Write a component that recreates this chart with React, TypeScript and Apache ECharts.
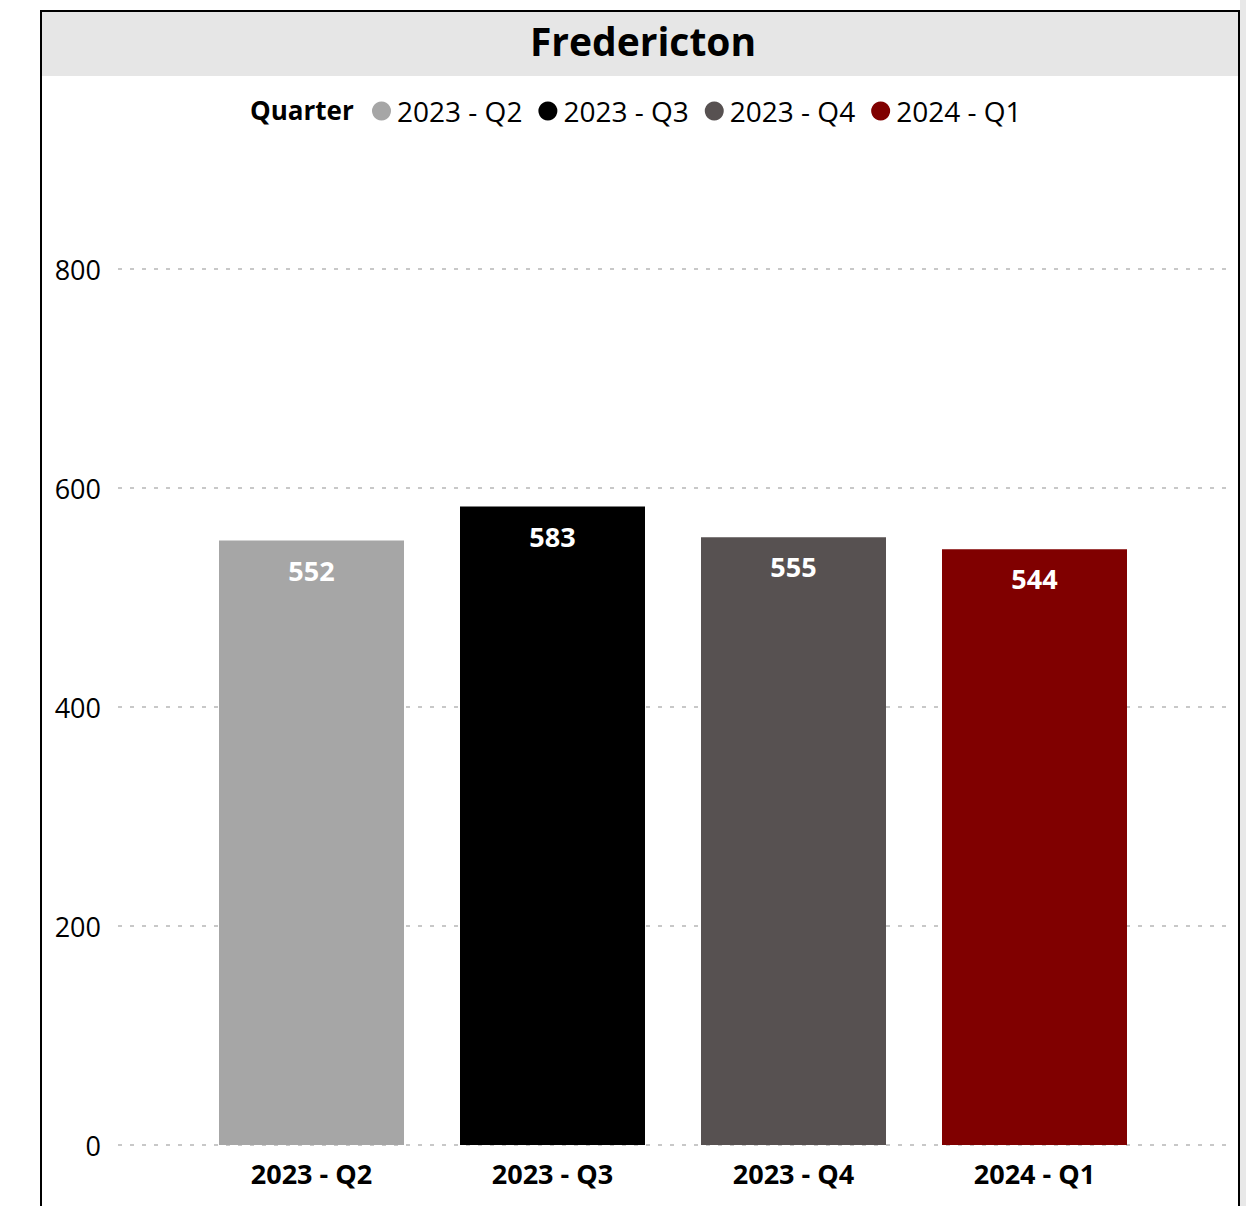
import React, { useEffect, useRef } from "react";
import * as echarts from "echarts";

const categories = ["2023 - Q2", "2023 - Q3", "2023 - Q4", "2024 - Q1"];
const values = [552, 583, 555, 544];
const colors = ["#a6a6a6", "#000000", "#575151", "#800000"];
const yTicks = { min: 0, max: 800, interval: 200 };
const chartTitle = "Fredericton";
const legendTitle = "Quarter";

const FONT = "'Open Sans', 'Noto Sans', sans-serif";

export default function App() {
  const ref = useRef<HTMLDivElement>(null);
  useEffect(() => {
    document.body.style.margin = "0";
    const chart = echarts.init(ref.current!, null, { renderer: "svg" });
    const series = categories.map((name, i) => ({
      name,
      type: "bar",
      stack: "all",
      xAxisIndex: 1,
      yAxisIndex: 1,
      barWidth: 185,
      itemStyle: { color: colors[i] },
      label: {
        show: true,
        position: "insideTop",
        distance: 16,
        color: "#ffffff",
        fontFamily: FONT,
        fontWeight: "bold",
        fontSize: 27,
      },
      data: categories.map((_, j) => (j === i ? values[i] : "-")),
    }));
    chart.setOption({
      animation: false,
      backgroundColor: "#ffffff",
      textStyle: { fontFamily: FONT },
      graphic: [
        { type: "rect", z: -10, shape: { x: 1240, y: 0, width: 10, height: 1206 }, style: { fill: "#e8e8e8" } },
        { type: "rect", z: -5, shape: { x: 41, y: 11, width: 1198, height: 65 }, style: { fill: "#e6e6e6" } },
        { type: "rect", z: 100, shape: { x: 41, y: 11, width: 1198, height: 1220 }, style: { fill: "none", stroke: "#000000", lineWidth: 2 } },
        {
          type: "text",
          left: 250,
          top: 97,
          style: { text: legendTitle, font: `bold 26px ${FONT}`, fill: "#000000" },
        },
      ],
      title: {
        text: chartTitle,
        left: 638,
        textAlign: "center",
        top: 16,
        textStyle: { fontFamily: FONT, fontWeight: "bold", fontSize: 39, color: "#000000" },
      },
      legend: {
        left: 367,
        top: 92,
        icon: "circle",
        itemWidth: 19,
        itemHeight: 19,
        itemGap: 16,
        textStyle: { fontFamily: FONT, fontSize: 28, color: "#000000", padding: [0, 0, 0, 1] },
        data: categories,
      },
      grid: [
        { left: 118, right: 14, top: 269, bottom: 61 },
        { left: 191, width: 964, top: 269, bottom: 61 },
      ],
      xAxis: [
        { type: "category", gridIndex: 0, show: false, data: [""] },
        {
          type: "category",
          gridIndex: 1,
          data: categories,
          axisLine: { show: false },
          axisTick: { show: false },
          axisLabel: { margin: 15, fontFamily: FONT, fontSize: 27, fontWeight: "bold", color: "#000000" },
        },
      ],
      yAxis: [
        {
          type: "value",
          gridIndex: 0,
          min: yTicks.min,
          max: yTicks.max,
          interval: yTicks.interval,
          axisLine: { show: false },
          axisTick: { show: false },
          axisLabel: { margin: 17, fontFamily: FONT, fontSize: 27, color: "#000000" },
          splitLine: { lineStyle: { color: "#c8c8c8", width: 2, type: [4, 8] } },
        },
        {
          type: "value",
          gridIndex: 1,
          min: yTicks.min,
          max: yTicks.max,
          interval: yTicks.interval,
          show: false,
          splitLine: { show: false },
        },
      ],
      series,
    });
    return () => chart.dispose();
  }, []);
  return <div ref={ref} style={{ position: "absolute", left: 0, top: 0, width: 1246, height: 1206 }} />;
}
